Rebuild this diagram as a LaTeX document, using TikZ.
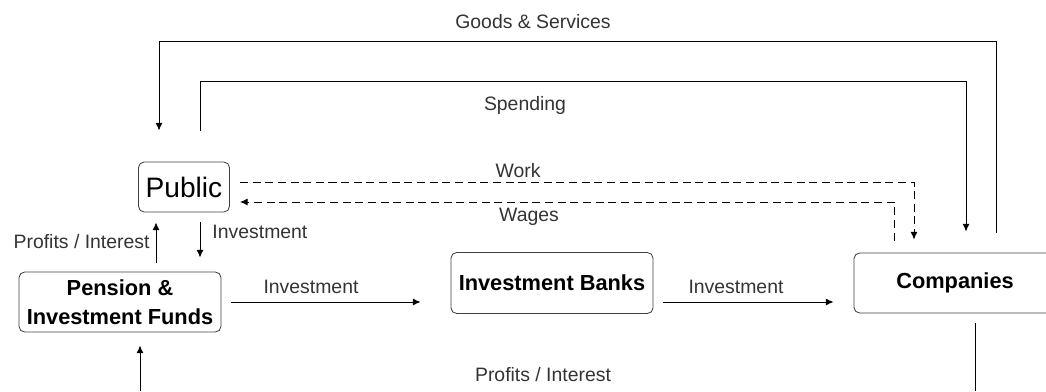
\documentclass[tikz,border=0pt]{standalone}
\usepackage{fontspec}
\setmainfont{Liberation Sans}
\usepackage{tikz}
\usetikzlibrary{calc}
\usetikzlibrary{arrows,arrows.meta,shapes,positioning}
\tikzset{>={Latex[length=5.5pt,width=5pt]}}
\tikzset{box/.style={draw=black!75,rounded corners=4pt,line width=0.6pt,minimum width=5.05cm,minimum height=1.5cm,align=center,font=\fontsize{15.5}{20.6}\selectfont\bfseries},
	lbl/.style={text=black!80,inner sep=0pt,font=\fontsize{13.8}{16}\selectfont},
	dashline/.style={dash pattern=on 5.7pt off 3.3pt}}

\begin{document}
\begin{tikzpicture}[line width=0.7pt]
				\useasboundingbox (0,0) rectangle (26.15,9.775);

				\draw (4.6,5.1) node (pub) [box,minimum width=2.275cm,minimum height=1.25cm,inner sep=2pt,font=\fontsize{20}{24}\selectfont] {Public};
				\draw (3.0,2.225) node (pen) [box] {Pension \&\\Investment Funds};
				\draw (13.8,2.7) node (ib) [box,minimum height=1.525cm] {Investment Banks};
				\draw (23.875,2.7) node (com) [box] {Companies};

				% goods back to the public, spending out to the companies
				\draw [->] ([xshift=1.025cm,yshift=0.5cm]com.north) -- ++(0,4.775) -| ([xshift=-0.625cm,yshift=0.775cm]pub.north);
				\draw [->] ([xshift=0.4cm,yshift=0.775cm]pub.north) -- ++(0,1.225) -| ([xshift=0.275cm,yshift=0.525cm]com.north);
				\draw (13.325,9.225) node (lgoods) [lbl] {Goods \& Services};
				\draw (13.125,7.15) node (lspend) [lbl] {Spending};

				% labour market
				\draw [dashline,->] ([shift={(0.25,0.125)}]pub.east) -| ([shift={(-1.025,0.325)}]com.north);
				\draw [dashline,->] ([shift={(-1.525,0.3)}]com.north) |- ([shift={(0.25,-0.375)}]pub.east);
				\draw (12.95,5.5) node (lwork) [lbl] {Work};
				\draw (13.225,4.35) node (lwage) [lbl] {Wages};

				% public <-> funds
				\draw [->,shorten <=0.25cm,shorten >=0.35cm] ([xshift=0.4cm]pub.south) -- ([xshift=0.4cm]pub.south |- pen.north);
				\draw [->,shorten <=0.225cm,shorten >=0.25cm] ([xshift=-0.7cm]pub.south |- pen.north) -- ([xshift=-0.7cm]pub.south);
				\draw (5.3,3.975) node (linv1) [lbl,anchor=west] {Investment};
				\draw (3.75,3.725) node (lprof1) [lbl,anchor=east] {Profits / Interest};

				% investment chain
				\draw [->,shorten <=0.25cm,shorten >=0.75cm] (pen.east) -- (pen.east -| ib.west);
				\draw [->,shorten <=0.25cm,shorten >=0.5cm] (ib.east |- pen.east) -- (com.west |- pen.east);
				\draw (7.775,2.6) node (linv2) [lbl] {Investment};
				\draw (18.4,2.6) node (linv3) [lbl] {Investment};

				% returns along the bottom
				\coordinate (pbot) at (3.5,0);
				\coordinate (cbot) at (24.375,0);
				\draw [->,shorten >=0.325cm] (pbot) -- (pbot |- pen.south);
				\draw [shorten <=0.25cm] (cbot |- com.south) -- (cbot);
				\draw (13.575,0.4) node (lprof2) [lbl] {Profits / Interest};
			\end{tikzpicture}
\end{document}
